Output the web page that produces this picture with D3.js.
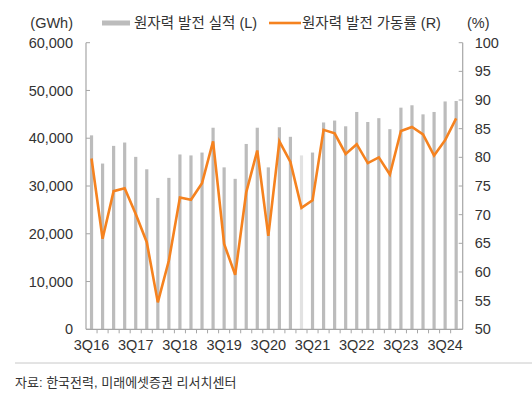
<!DOCTYPE html>
<html>
<head>
<meta charset="utf-8">
<script src="https://cdn.jsdelivr.net/npm/d3@7"></script>
<style>
  body { margin: 0; background: #fff; }
  svg { display: block; font-family: "Liberation Sans", Arial, "Noto Sans CJK KR", sans-serif; }
</style>
</head>
<body>
<div id="chart"></div>
<script>
// Quarters 3Q16 .. 4Q24
const quarters = ["3Q16","4Q16","1Q17","2Q17","3Q17","4Q17","1Q18","2Q18","3Q18","4Q18",
  "1Q19","2Q19","3Q19","4Q19","1Q20","2Q20","3Q20","4Q20","1Q21","2Q21","3Q21","4Q21",
  "1Q22","2Q22","3Q22","4Q22","1Q23","2Q23","3Q23","4Q23","1Q24","2Q24","3Q24","4Q24"];

// 원자력 발전 실적 (GWh, left axis)
const generation = [40600, 34700, 38400, 39100, 36100, 33500, 27500, 31700, 36600, 36400,
  37000, 42200, 33900, 31500, 38800, 42200, 33900, 42300, 40300, 36400, 37000, 43300,
  43700, 42500, 45500, 43400, 44200, 41900, 46400, 46900, 45000, 45500, 47700, 47800];

// 원자력 발전 가동률 (%, right axis)
const utilization = [79.8, 65.8, 74.1, 74.6, 70.1, 65.2, 54.7, 62.0, 73.0, 72.6,
  75.5, 82.8, 64.9, 59.5, 73.9, 81.2, 66.3, 82.8, 79.2, 71.2, 72.5, 84.8,
  84.2, 80.6, 82.3, 79.0, 80.0, 77.0, 84.6, 85.3, 84.0, 80.3, 83.0, 86.8];

const highlighted = ["2Q21"];
const leftTicks = [0, 10000, 20000, 30000, 40000, 50000, 60000];
const rightTicks = [50, 55, 60, 65, 70, 75, 80, 85, 90, 95, 100];
const xLabels = ["3Q16","3Q17","3Q18","3Q19","3Q20","3Q21","3Q22","3Q23","3Q24"];

const width = 532, height = 395;
const margin = { top: 43, right: 70, bottom: 66, left: 86 };
const axisColor = "#a6a6a6";
const textColor = "#333";

const svg = d3.select("#chart").append("svg")
  .attr("width", width)
  .attr("height", height);

const x = d3.scaleBand()
  .domain(quarters)
  .range([margin.left, width - margin.right - 0.3]);

const yL = d3.scaleLinear().domain([0, 60000]).range([height - margin.bottom + 0.3, margin.top - 0.3]);
const yR = d3.scaleLinear().domain([50, 100]).range(yL.range());

const plotBottom = yL(0);
const fmt = d3.format(",");

// Bars
svg.append("g")
  .selectAll("rect")
  .data(quarters)
  .join("rect")
  .attr("x", d => x(d) + x.bandwidth() / 2 - 1.6)
  .attr("width", 3.2)
  .attr("y", (d, i) => yL(generation[i]))
  .attr("height", (d, i) => plotBottom - yL(generation[i]))
  .attr("fill", d => highlighted.includes(d) ? "#e2e2e2" : "#bcbcbc");

// Left axis
const gL = svg.append("g").attr("transform", `translate(${margin.left},0)`);
gL.append("line").attr("y1", yL(60000)).attr("y2", plotBottom)
  .attr("stroke", axisColor).attr("stroke-width", 1.2);
gL.selectAll("line.tick").data(leftTicks).join("line")
  .attr("class", "tick")
  .attr("x1", 0).attr("x2", 4)
  .attr("y1", d => yL(d)).attr("y2", d => yL(d))
  .attr("stroke", axisColor);
gL.selectAll("text").data(leftTicks).join("text")
  .attr("x", -13).attr("y", d => yL(d))
  .attr("dy", "0.35em")
  .attr("text-anchor", "end")
  .attr("font-size", 14.5)
  .attr("fill", textColor)
  .text(d => fmt(d));

// Right axis
const xr = width - margin.right + 0.7;
const gR = svg.append("g").attr("transform", `translate(${xr},0)`);
gR.append("line").attr("y1", yR(100)).attr("y2", plotBottom)
  .attr("stroke", axisColor).attr("stroke-width", 1.2);
gR.selectAll("line.tick").data(rightTicks).join("line")
  .attr("class", "tick")
  .attr("x1", 0).attr("x2", -4)
  .attr("y1", d => yR(d)).attr("y2", d => yR(d))
  .attr("stroke", axisColor);
gR.selectAll("text").data(rightTicks).join("text")
  .attr("x", 12).attr("y", d => yR(d))
  .attr("dy", "0.35em")
  .attr("font-size", 14.5)
  .attr("fill", textColor)
  .text(d => d);

// Bottom axis
const gB = svg.append("g");
gB.append("line")
  .attr("x1", margin.left).attr("x2", xr)
  .attr("y1", plotBottom).attr("y2", plotBottom)
  .attr("stroke", axisColor).attr("stroke-width", 1.2);
gB.selectAll("line.tick").data(quarters.slice(1)).join("line")
  .attr("class", "tick")
  .attr("x1", d => x(d)).attr("x2", d => x(d))
  .attr("y1", plotBottom).attr("y2", plotBottom + 4)
  .attr("stroke", axisColor);
gB.selectAll("text").data(xLabels).join("text")
  .attr("x", d => x(d) + x.bandwidth() / 2)
  .attr("y", plotBottom + 16)
  .attr("dy", "0.35em")
  .attr("text-anchor", "middle")
  .attr("font-size", 14.5)
  .attr("fill", textColor)
  .text(d => d);

// Line
const line = d3.line()
  .x((d, i) => x(quarters[i]) + x.bandwidth() / 2)
  .y(d => yR(d));
svg.append("path")
  .datum(utilization)
  .attr("d", line)
  .attr("fill", "none")
  .attr("stroke", "#f5821f")
  .attr("stroke-width", 2.6)
  .attr("stroke-linejoin", "miter");

// Legend & unit labels
const ly = 23;
svg.append("text").attr("x", 73).attr("y", ly).attr("dy", "0.35em")
  .attr("text-anchor", "end").attr("font-size", 14.5).attr("fill", textColor).text("(GWh)");
svg.append("text").attr("x", 467).attr("y", ly).attr("dy", "0.35em")
  .attr("font-size", 14.5).attr("fill", textColor).text("(%)");

svg.append("rect").attr("x", 102).attr("y", ly - 2.5).attr("width", 28).attr("height", 5).attr("fill", "#bcbcbc");
svg.append("text").attr("x", 134).attr("y", ly).attr("dy", "0.35em")
  .attr("font-size", 14.5).attr("fill", textColor).text("원자력 발전 실적 (L)");

svg.append("line").attr("x1", 269).attr("x2", 301).attr("y1", ly).attr("y2", ly)
  .attr("stroke", "#f5821f").attr("stroke-width", 2.6);
svg.append("text").attr("x", 302).attr("y", ly).attr("dy", "0.35em")
  .attr("font-size", 14.5).attr("fill", textColor).text("원자력 발전 가동률 (R)");

// Source footer
svg.append("line").attr("x1", 15).attr("x2", width).attr("y1", 363).attr("y2", 363)
  .attr("stroke", "#c8c8c8").attr("stroke-width", 1);
svg.append("text").attr("x", 15).attr("y", 382).attr("dy", "0.35em")
  .attr("font-size", 13).attr("fill", textColor).text("자료: 한국전력, 미래에셋증권 리서치센터");
</script>
</body>
</html>
